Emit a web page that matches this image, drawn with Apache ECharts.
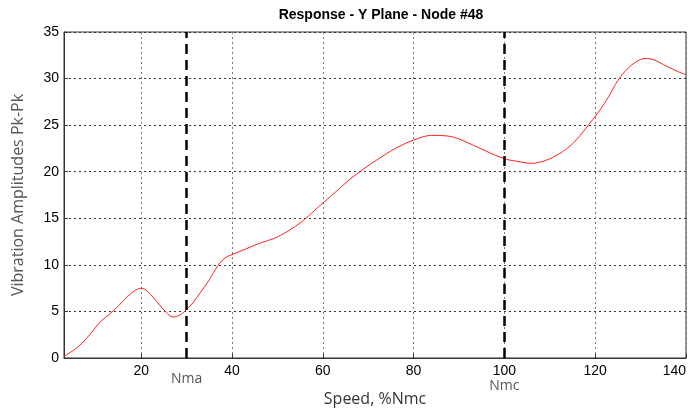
<!DOCTYPE html>
<html><head><meta charset="utf-8">
<script src="https://cdn.jsdelivr.net/npm/echarts@6/dist/echarts.min.js"></script>
<style>html,body{margin:0;padding:0;background:#fff}#c{width:694px;height:415px}</style>
</head><body><div id="c"></div>
<script>
const speed = [3,5,7,9,11,13,15,17,18.5,20,21.5,23.5,25.5,27,28.5,30,31.5,33,35,37,38.5,40,43,46,50,55,59,63,66,69,72,76,80,84,88,92,96,100,103,106,109,112,115,118,121,123,125,127,129,131,133,135,138,140];
const amplitude = [0.2,0.8,1.6,2.7,3.9,4.7,5.6,6.6,7.2,7.5,7.1,6.0,4.9,4.4,4.6,5.2,6.0,7.0,8.4,10.0,10.75,11.1,11.7,12.3,13.0,14.5,16.2,17.9,19.2,20.3,21.3,22.5,23.4,23.9,23.8,23.1,22.2,21.4,21.1,20.9,21.2,21.9,23.0,24.7,26.6,28.1,29.8,31.0,31.8,32.15,32.0,31.5,30.8,30.4];
const xTicks = [20,40,60,80,100,120,140];
const markers = [{name:'Nma', value:30}, {name:'Nmc', value:100}];

const chart = echarts.init(document.getElementById('c'), null, {renderer:'canvas'});
chart.setOption({
  animation:false,
  title:{text:'Response - Y Plane - Node #48', left:376, textAlign:'center', top:3,
    textStyle:{fontFamily:'Liberation Sans', fontSize:14, fontWeight:'bold', color:'#000'}},
  grid:{left:64, right:8, top:32, bottom:57, show:true, borderColor:'#333', borderWidth:1,
    containLabel:false, outerBoundsMode:'none'},
  xAxis:{type:'value', min:3, max:140,
    name:'Speed, %Nmc', nameLocation:'middle', nameGap:33,
    nameTextStyle:{fontFamily:'Open Sans', fontSize:16, color:'#333'},
    axisLine:{show:true, lineStyle:{color:'#333'}},
    axisTick:{show:true, inside:true, length:4, customValues:xTicks, lineStyle:{color:'#333'}},
    axisLabel:{customValues:xTicks, fontFamily:'Liberation Sans', fontSize:14, color:'#000', margin:6,
      alignMaxLabel:'right'},
    splitLine:{show:true, lineStyle:{color:'#777', width:1, type:[2,3]}}},
  yAxis:{type:'value', min:0, max:35, interval:5,
    name:'Vibration Amplitudes Pk-Pk', nameLocation:'middle', nameGap:38,
    nameTextStyle:{fontFamily:'Open Sans', fontSize:16, color:'#555'},
    axisLine:{show:true, lineStyle:{color:'#333'}},
    axisTick:{show:true, inside:true, length:4, lineStyle:{color:'#333'}},
    axisLabel:{fontFamily:'Liberation Sans', fontSize:14, color:'#000', margin:5},
    splitLine:{show:true, lineStyle:{color:'#333', width:1, type:[2,3]}}},
  series:[{
    type:'line', data:speed.map((s,i)=>[s, amplitude[i]]), smooth:0.35, showSymbol:false,
    lineStyle:{color:'#ff2020', width:1},
    markLine:{silent:true, symbol:'none',
      lineStyle:{color:'#000', width:2.5, type:[10,6]},
      label:{show:true, position:'start', formatter:'{b}', fontFamily:'Open Sans', fontSize:14, color:'#555'},
      data:markers.map((m,i)=>({name:m.name, xAxis:m.value, label:{distance: i===0 ? 14 : 21}}))}
  }]
});
</script></body></html>
